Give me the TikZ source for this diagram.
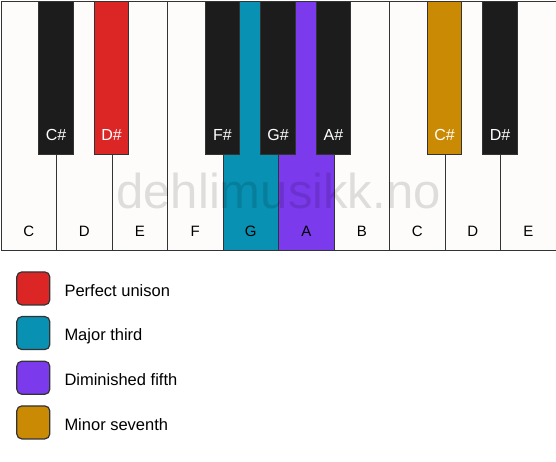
\documentclass[tikz,border=0pt]{standalone}
\usepackage{fontspec}
\setmainfont{Liberation Sans}
\definecolor{keywhite}{HTML}{FDFCFA}
\definecolor{keyblack}{HTML}{1C1C1C}
\definecolor{cred}{HTML}{DC2626}
\definecolor{ccyan}{HTML}{0891B2}
\definecolor{cviolet}{HTML}{7C3AED}
\definecolor{cgold}{HTML}{CA8A04}
\definecolor{edge}{HTML}{333333}
\begin{document}
\begin{tikzpicture}[x=1pt,y=-1pt,
  whitekey/.style={draw=edge,line width=1pt,fill=keywhite,rectangle,minimum width=55.5pt,minimum height=249.5pt,inner sep=0pt,anchor=north west},
  blackkey/.style={draw=edge,line width=1pt,fill=keyblack,rectangle,minimum width=34.5pt,minimum height=153pt,inner sep=0pt,anchor=north},
  wlabel/.style={font=\fontsize{15}{17}\selectfont,text=black,anchor=base,inner sep=0pt},
  blabel/.style={font=\fontsize{16}{18}\selectfont,text=white,anchor=base,inner sep=0pt},
  legbox/.style={draw=edge,line width=1.2pt,rounded corners=5pt,minimum size=33pt,inner sep=0pt},
  legtext/.style={font=\fontsize{16.5}{19}\selectfont,text=black,anchor=base west,inner sep=0pt},
  watermark/.style={font=\fontsize{49}{55}\selectfont,text=black,text opacity=0.12,anchor=base,inner sep=0pt}
]
\useasboundingbox (0,0) rectangle (556,461);
\fill[white] (0,0) rectangle (556,461);
% white keys
\foreach \i/\n/\c in {0/C/keywhite,1/D/keywhite,2/E/keywhite,3/F/keywhite,4/G/ccyan,5/A/cviolet,6/B/keywhite,7/C/keywhite,8/D/keywhite,9/E/keywhite}{
  \node[whitekey,fill=\c] (w\i) at (\i*55.5+0.5,0.5) {};
  \node[wlabel] (wl\i) at ([yshift=14.5pt]w\i.south) {\n};
}
% black keys
\foreach \i/\n/\c in {1/C\#/keyblack,2/D\#/cred,4/F\#/keyblack,5/G\#/keyblack,6/A\#/keyblack,8/C\#/cgold,9/D\#/keyblack}{
  \node[blackkey,fill=\c] (b\i) at (\i*55.5+0.5,0.5) {};
  \node[blabel] (bl\i) at ([yshift=14pt]b\i.south) {\n};
}
% watermark
\node[watermark] (wm) at (278.5,208) {dehlimusikk.no};
% legend
\foreach \k/\c/\t in {0/cred/Perfect unison,1/ccyan/Major third,2/cviolet/Diminished fifth,3/cgold/Minor seventh}{
  \node[legbox,fill=\c] (lb\k) at (33.3,288.4+\k*44.67) {};
  \node[legtext] (lt\k) at (64.3,296+\k*44.67) {\t};
}
\end{tikzpicture}
\end{document}
